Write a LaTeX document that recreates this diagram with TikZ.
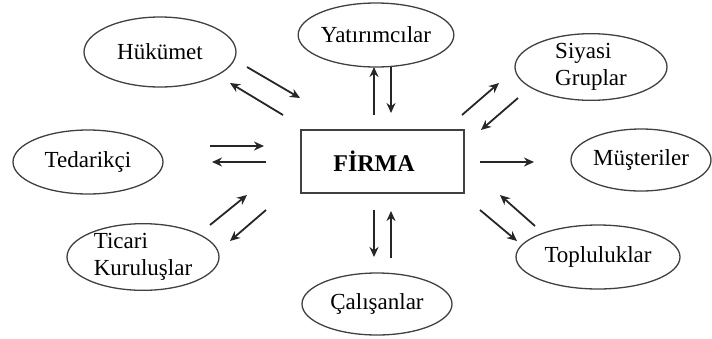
\documentclass[tikz,border=0pt]{standalone}
\usepackage{fontspec}
\setmainfont{Liberation Serif}
\usetikzlibrary{shapes.geometric,arrows.meta}
\tikzset{
  stake/.style={ellipse,draw=black!75,line width=1.3pt,inner sep=0pt,
    font=\fontsize{23}{27}\selectfont,align=left},
  firmbox/.style={rectangle,draw=black!75,line width=1.3pt,inner sep=0pt,
    minimum width=163pt,minimum height=63pt},
  flow/.style={line width=1.8pt,draw=black!85,-{Stealth[length=10pt,width=9pt]}}
}
\begin{document}
\begin{tikzpicture}[x=1pt,y=-1pt]
\useasboundingbox (0,0) rectangle (712,338);
% nodes
\node[firmbox] (firm) at (382.5,161.5) {};
\node[font=\fontsize{24}{28}\selectfont\bfseries] (firmtxt) at (374,161) {FİRMA};
\node[stake,minimum width=152pt,minimum height=70pt] (hk) at (160,52) {Hükümet};
\node[stake,minimum width=150pt,minimum height=64pt] (yat) at (376,35) {Yatırımcılar};
\node[stake,minimum width=152pt,minimum height=66pt] (sg) at (591,67) {Siyasi\\Gruplar};
\node[stake,minimum width=150pt,minimum height=64pt] (ted) at (88,162) {Tedarikçi};
\node[stake,minimum width=140pt,minimum height=62pt] (mus) at (641,160) {Müşteriler};
\node[stake,minimum width=152pt,minimum height=64pt] (tk) at (143,257) {Ticari\\Kuruluşlar};
\node[stake,minimum width=150pt,minimum height=62pt] (cal) at (377,304) {Çalışanlar};
\node[stake,minimum width=164pt,minimum height=64pt] (top) at (598,257) {Topluluklar};
% arrow end points
\coordinate (a1s) at (247,67);  \coordinate (a1e) at (300,98);
\coordinate (a2s) at (283,115); \coordinate (a2e) at (230,83);
\coordinate (a3s) at (374,115); \coordinate (a3e) at (374,67);
\coordinate (a4s) at (391,67);  \coordinate (a4e) at (391,113);
\coordinate (a5s) at (462,115); \coordinate (a5e) at (499,83);
\coordinate (a6s) at (518,98);  \coordinate (a6e) at (481,130);
\coordinate (a7s) at (210,146); \coordinate (a7e) at (264,146);
\coordinate (a8s) at (266,162); \coordinate (a8e) at (212,162);
\coordinate (a9s) at (480,162); \coordinate (a9e) at (534,162);
\coordinate (a10s) at (210,225); \coordinate (a10e) at (247,195);
\coordinate (a11s) at (266,210); \coordinate (a11e) at (230,241);
\coordinate (a12s) at (374,210); \coordinate (a12e) at (374,257);
\coordinate (a13s) at (391,258); \coordinate (a13e) at (391,211);
\coordinate (a14s) at (480,210); \coordinate (a14e) at (517,241);
\coordinate (a15s) at (535,226); \coordinate (a15e) at (500,195);
% arrows
\foreach \i in {1,...,15} { \draw[flow] (a\i s) -- (a\i e); }
\end{tikzpicture}
\end{document}
